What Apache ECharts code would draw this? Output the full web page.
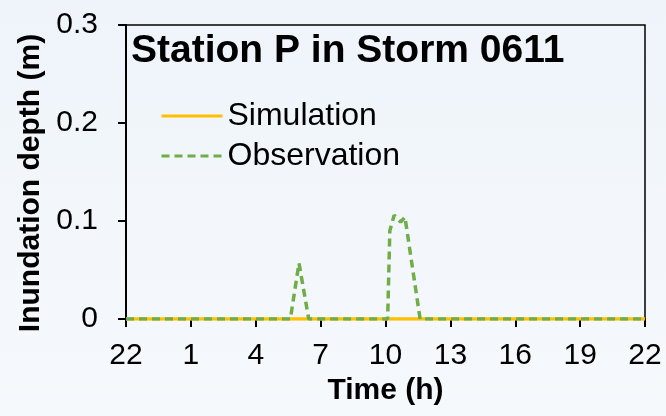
<!DOCTYPE html>
<html>
<head>
<meta charset="utf-8">
<script src="https://cdn.jsdelivr.net/npm/echarts@6/dist/echarts.min.js"></script>
<style>
html, body { margin: 0; padding: 0; }
#main { width: 666px; height: 416px; }
</style>
</head>
<body>
<div id="main"></div>
<script>
// hours since 22:00 and depth in metres
var hourLabels = ['22', '1', '4', '7', '10', '13', '16', '19', '22'];
var simTime = [0, 24];
var simDepth = [0, 0];
var obsTime = [0, 7.6, 8.0, 8.45, 12.1, 12.2, 12.4, 12.7, 12.9, 13.6, 24];
var obsDepth = [0, 0, 0.057, 0, 0, 0.09, 0.106, 0.099, 0.104, 0, 0];

function pairs(xs, ys) {
  return xs.map(function (x, i) { return [x, ys[i]]; });
}

var font = 'Liberation Sans, Arial, sans-serif';
var myChart = echarts.init(document.getElementById('main'));
var option = {
  backgroundColor: new echarts.graphic.LinearGradient(0, 0, 0, 1, [
    { offset: 0, color: '#eef4fa' },
    { offset: 1, color: '#f6f9fc' }
  ]),
  animation: false,
  title: {
    text: 'Station P in Storm 0611',
    left: 126,
    top: 27,
    textStyle: { fontFamily: font, fontSize: 39, fontWeight: 'bold', color: '#000' }
  },
  legend: {
    orient: 'vertical',
    left: 155,
    top: 95,
    itemWidth: 61,
    itemHeight: 14,
    itemGap: 8,
    itemStyle: { opacity: 0 },
    lineStyle: { width: 3 },
    textStyle: { fontFamily: font, fontSize: 32, color: '#000' },
    data: ['Simulation', 'Observation']
  },
  grid: {
    left: 126, right: 21, top: 25, bottom: 97,
    show: true, borderColor: '#000', borderWidth: 1.5
  },
  xAxis: {
    type: 'value',
    min: 0, max: 24, interval: 3,
    name: 'Time (h)',
    nameLocation: 'middle',
    nameGap: 52,
    nameTextStyle: { fontFamily: font, fontSize: 30, fontWeight: 'bold', color: '#000' },
    axisLine: { lineStyle: { color: '#000', width: 2 } },
    axisTick: { length: 8, lineStyle: { color: '#000', width: 2 } },
    axisLabel: {
      margin: 22,
      fontFamily: font, fontSize: 30, color: '#000',
      formatter: function (v) { return hourLabels[Math.round(v / 3)]; }
    },
    splitLine: { show: false }
  },
  yAxis: {
    type: 'value',
    min: 0, max: 0.3, interval: 0.1,
    name: 'Inundation depth (m)',
    nameLocation: 'middle',
    nameGap: 80,
    nameTextStyle: {
      fontFamily: font, fontSize: 30, fontWeight: 'bold', color: '#000',
      padding: [0, 22, 0, 0]
    },
    axisLine: { show: true, lineStyle: { color: '#000', width: 2 } },
    axisTick: { show: true, length: 8, lineStyle: { color: '#000', width: 2 } },
    axisLabel: {
      margin: 28,
      fontFamily: font, fontSize: 30, color: '#000',
      formatter: function (v) { return v === 0 ? '0' : v.toFixed(1); }
    },
    splitLine: { show: false }
  },
  series: [
    {
      name: 'Simulation',
      type: 'line',
      symbol: 'none',
      data: pairs(simTime, simDepth),
      lineStyle: { color: '#ffc000', width: 3.5 },
      itemStyle: { color: '#ffc000' }
    },
    {
      name: 'Observation',
      type: 'line',
      symbol: 'none',
      data: pairs(obsTime, obsDepth),
      lineStyle: { color: '#70ad47', width: 3.5, type: [8, 5] },
      itemStyle: { color: '#70ad47' }
    }
  ]
};
myChart.setOption(option);
window.addEventListener('resize', function () {
  myChart.resize();
});
</script>
</body>
</html>
